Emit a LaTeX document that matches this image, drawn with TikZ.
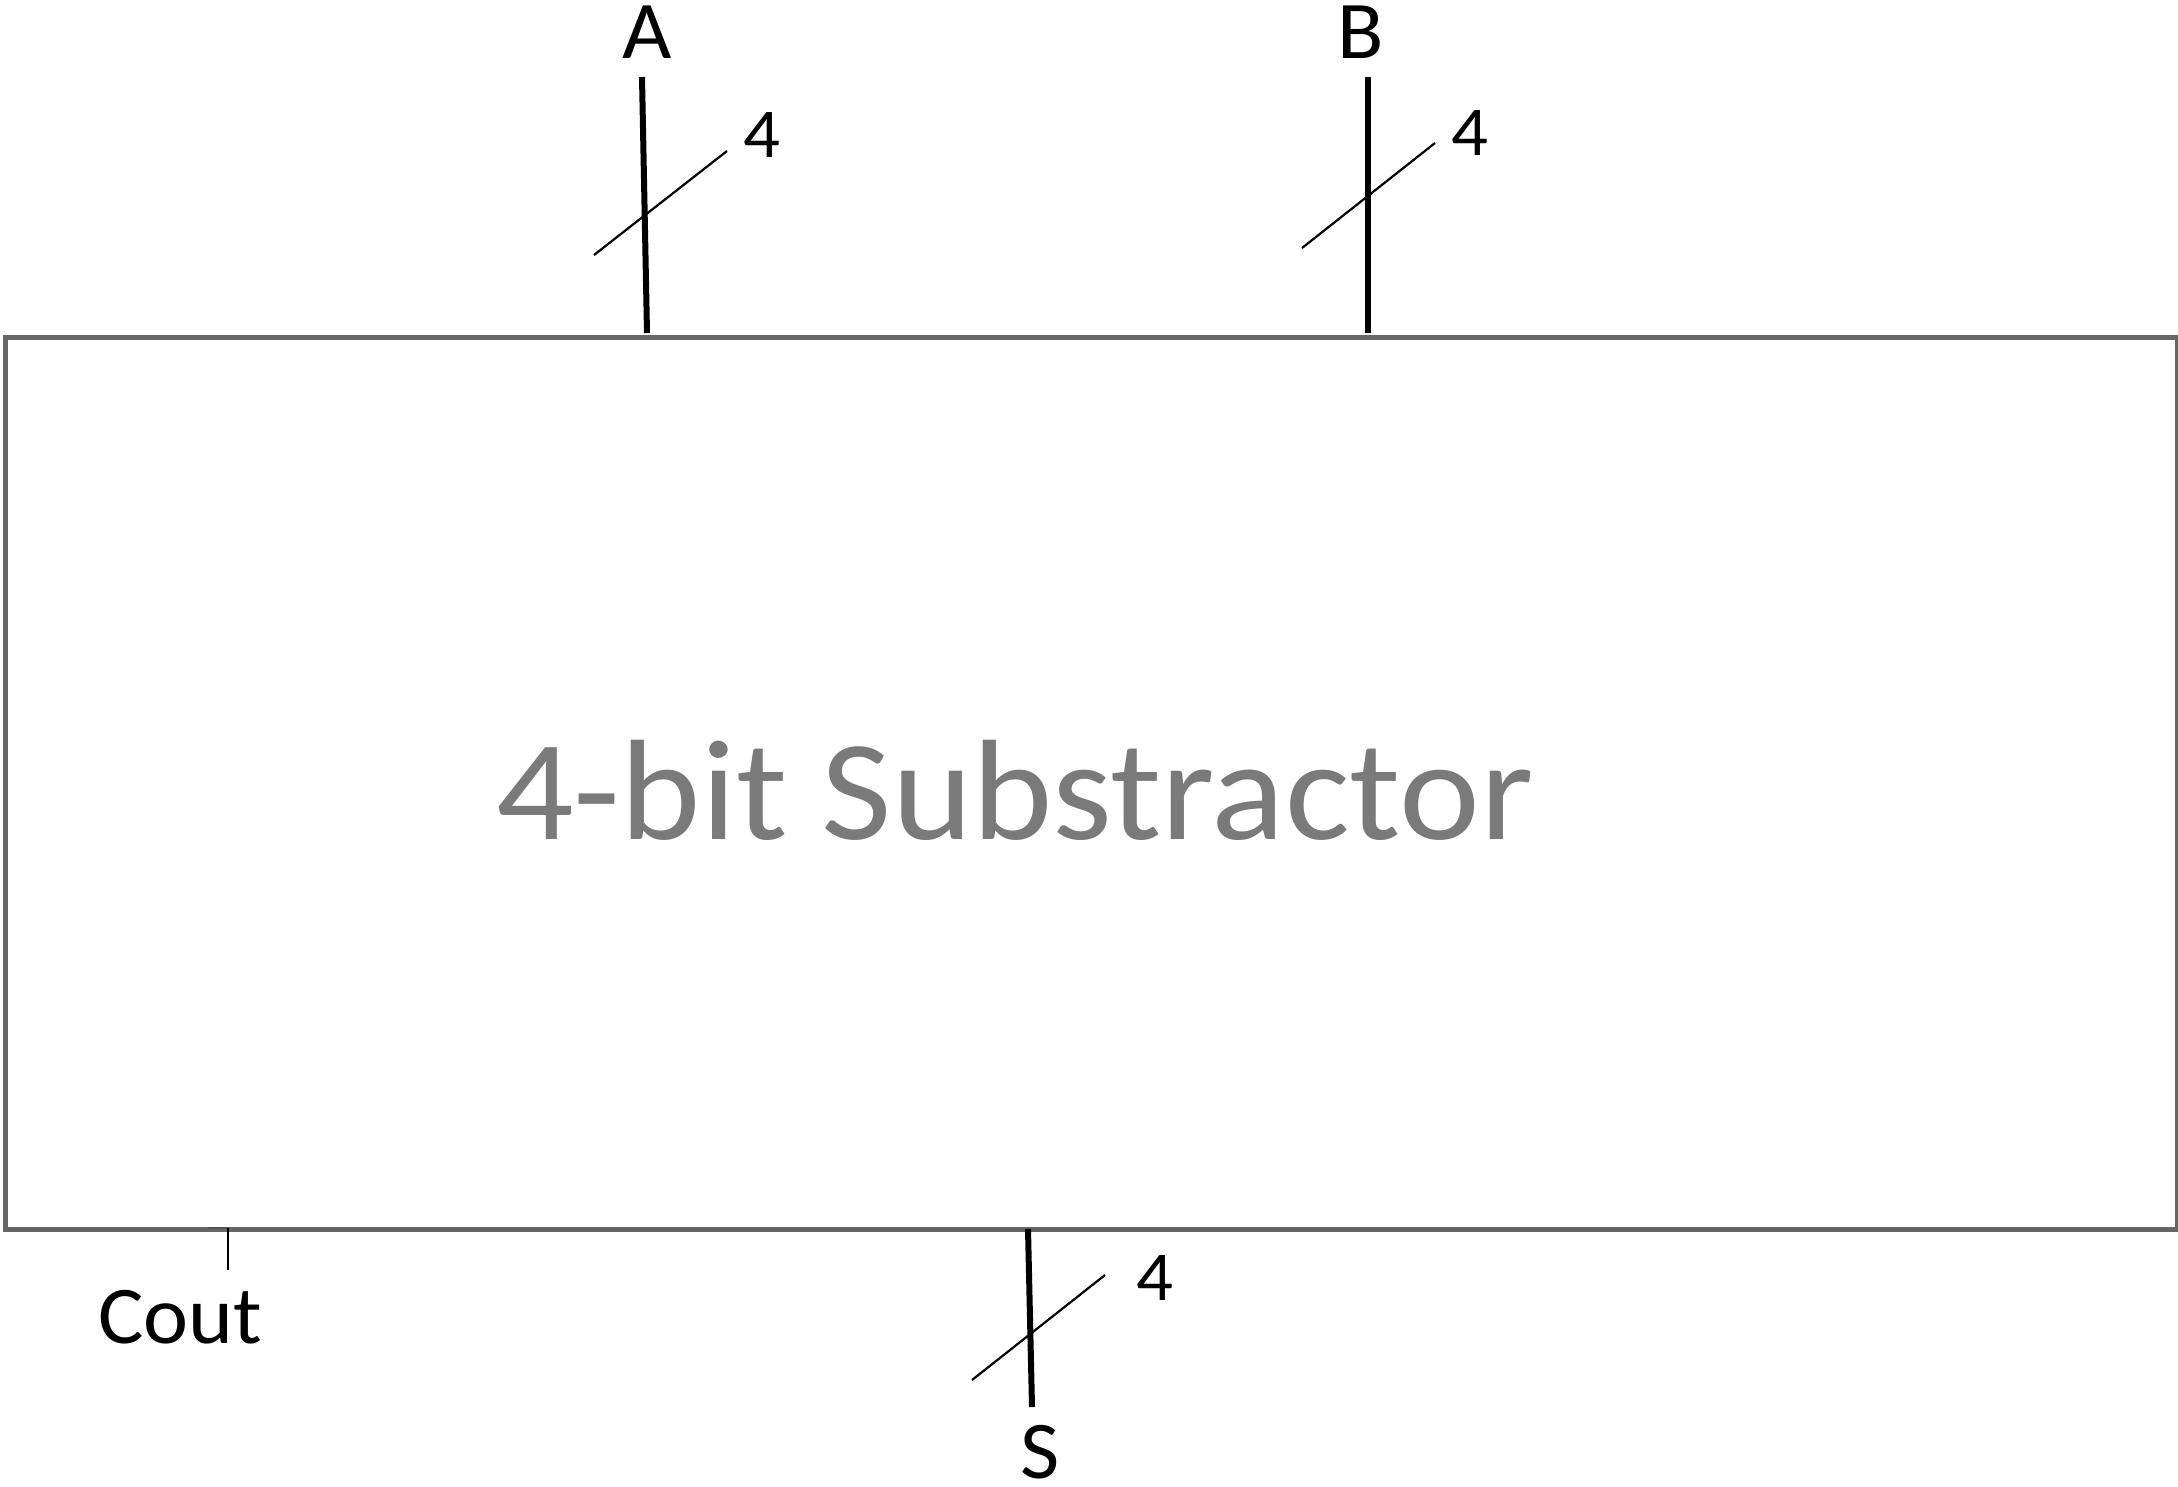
\documentclass[tikz,border=0pt]{standalone}
\usepackage{fontspec}
\setmainfont{Carlito}
\newfontfamily\titlefont[FakeStretch=1.07]{Carlito}
\newfontfamily\lblfont[FakeStretch=1.04]{Carlito}
\definecolor{boxgray}{HTML}{666666}
\definecolor{textgray}{HTML}{7A7A7A}
\definecolor{joingray}{HTML}{555555}
\tikzset{
  bus/.style={draw=black, line width=6pt},
  slashline/.style={draw=black, line width=2.2pt},
  thinwire/.style={draw=black, line width=2pt},
  lbl/.style={inner sep=0pt, anchor=base, font=\lblfont\fontsize{82}{90}\selectfont},
  widthlbl/.style={inner sep=0pt, anchor=base west, font=\lblfont\fontsize{70}{80}\selectfont},
}
\begin{document}
\begin{tikzpicture}[x=1pt,y=-1pt]
\useasboundingbox (0,0) rectangle (2178,1486);
\node[draw=boxgray, line width=5pt, minimum width=2172.5pt, minimum height=892pt, inner sep=0pt, anchor=north west] (box) at (2.5,335) {};
\node[inner sep=0pt, anchor=base, text=textgray, font=\titlefont\fontsize{143}{160}\selectfont] (title) at (1015,839) {4-bit Substractor};
% A
\coordinate (Atop) at (642,77);
\coordinate (Abot) at (647,333);
\draw[bus] (Atop) -- (Abot);
\coordinate (As1) at (594,255);
\coordinate (As2) at (727,151);
\draw[slashline] (As1) -- (As2);
\node[lbl] (Alab) at (647,58) {A};
\node[widthlbl] (An) at (743,157) {4};
% B
\coordinate (Btop) at (1368,77);
\coordinate (Bbot) at (1368,333);
\draw[bus] (Btop) -- (Bbot);
\coordinate (Bs1) at (1302,248);
\coordinate (Bs2) at (1435,143);
\draw[slashline] (Bs1) -- (Bs2);
\node[lbl] (Blab) at (1361,58) {B};
\node[widthlbl] (Bn) at (1451,155) {4};
% S
\coordinate (Stop) at (1028,1229);
\coordinate (Sbot) at (1032,1407);
\draw[bus] (Stop) -- (Sbot);
\coordinate (Ss1) at (972,1380);
\coordinate (Ss2) at (1105,1275);
\draw[slashline] (Ss1) -- (Ss2);
\node[lbl] (Slab) at (1040,1478) {S};
\node[widthlbl] (Sn) at (1136,1300) {4};
% Cout
\coordinate (Cjoin) at (208,1228);
\coordinate (Ccorner) at (228,1228);
\coordinate (Cend) at (228,1270);
\draw[draw=joingray, line width=2pt] (Cjoin) -- (Ccorner);
\draw[thinwire] (Ccorner) -- (Cend);
\node[lbl] (Clab) at (180,1343) {Cout};
\end{tikzpicture}
\end{document}
